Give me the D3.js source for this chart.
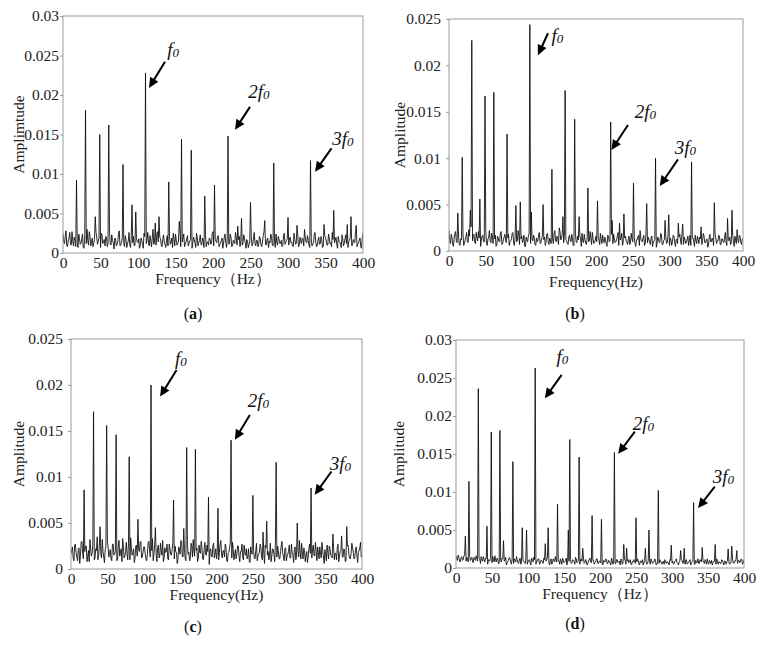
<!DOCTYPE html>
<html><head><meta charset="utf-8">
<script src="https://cdn.jsdelivr.net/npm/d3@7"></script>
<style>
html,body{margin:0;padding:0;background:#fff;}
svg{display:block;}
</style></head>
<body>
<svg id="chart" width="764" height="645" font-family="Liberation Serif, Times New Roman, serif"></svg>
<script>
// ---------- DATA ----------
const evenFreqs = d3.range(0, 401, 2); // Hz, noise grid (even)
const oddFreqs = d3.range(1, 400, 2);  // Hz, noise grid (odd)
const xTicks = [0, 50, 100, 150, 200, 250, 300, 350, 400];
const yTicks030 = [0, 0.005, 0.01, 0.015, 0.02, 0.025, 0.03];
const yTickLabels030 = ["0", "0.005", "0.01", "0.015", "0.02", "0.025", "0.03"];
const yTicks025 = [0, 0.005, 0.01, 0.015, 0.02, 0.025];
const yTickLabels025 = ["0", "0.005", "0.01", "0.015", "0.02", "0.025"];

// spectral peaks [frequency Hz, amplitude]
const peaksA = [[18,0.0092],[30,0.0181],[43,0.0046],[49,0.0150],[61,0.0162],[80,0.0112],[92,0.0061],[97,0.0052],[110,0.0228],[123,0.0038],[128,0.0046],[141,0.0090],[155,0.0040],[158,0.0144],[171,0.0130],[189,0.0072],[202,0.0086],[220,0.0148],[233,0.0034],[238,0.0044],[250,0.0064],[269,0.0041],[281,0.0114],[300,0.0045],[312,0.0035],[322,0.0030],[330,0.0117],[348,0.0036],[361,0.0054],[379,0.0036],[384,0.0046],[391,0.0035]];
const peaksB = [[12,0.0041],[18,0.0101],[29,0.0044],[31,0.0227],[42,0.0056],[49,0.0167],[61,0.0171],[79,0.0126],[91,0.0049],[97,0.0053],[110,0.0244],[112,0.0042],[128,0.0050],[140,0.0088],[155,0.0037],[158,0.0173],[171,0.0142],[177,0.0037],[189,0.0068],[202,0.0054],[220,0.0139],[222,0.0033],[232,0.0030],[238,0.0040],[251,0.0073],[260,0.0022],[269,0.0051],[281,0.0100],[294,0.0033],[299,0.0039],[312,0.0030],[318,0.0029],[330,0.0096],[343,0.0026],[361,0.0052],[379,0.0035],[385,0.0044],[392,0.0023]];
const peaksC = [[18,0.0086],[31,0.0171],[40,0.0046],[49,0.0156],[62,0.0146],[80,0.0122],[92,0.0054],[110,0.0200],[116,0.0045],[141,0.0075],[155,0.0044],[159,0.0132],[171,0.0130],[189,0.0078],[202,0.0066],[220,0.0140],[250,0.0080],[264,0.0040],[269,0.0052],[282,0.0116],[311,0.0050],[330,0.0088],[360,0.0038],[372,0.0036],[379,0.0046]];
const peaksD = [[13,0.0042],[18,0.0114],[31,0.0236],[43,0.0055],[49,0.0179],[61,0.0181],[66,0.0036],[79,0.0140],[92,0.0053],[98,0.0050],[110,0.0263],[124,0.0032],[128,0.0053],[141,0.0084],[156,0.0050],[158,0.0169],[171,0.0146],[176,0.0026],[189,0.0069],[202,0.0064],[220,0.0152],[233,0.0031],[237,0.0026],[250,0.0066],[263,0.0026],[268,0.0050],[281,0.0102],[299,0.0030],[312,0.0023],[317,0.0026],[330,0.0086],[342,0.0027],[360,0.0031],[378,0.0025],[383,0.0029],[390,0.0023]];

// noise floor amplitudes on evenFreqs (0..400 Hz)
const noiseA = [0.0025,0.0012,0.0028,0.0008,0.0019,0.0011,0.0027,0.0009,0.0016,0.0022,
0.0007,0.0018,0.0012,0.0024,0.0006,0.0015,0.0030,0.0010,0.0021,0.0013,
0.0008,0.0017,0.0026,0.0011,0.0019,0.0007,0.0023,0.0014,0.0009,0.0020,
0.0012,0.0028,0.0010,0.0016,0.0005,0.0018,0.0011,0.0024,0.0009,0.0014,
0.0020,0.0008,0.0017,0.0012,0.0026,0.0007,0.0015,0.0021,0.0010,0.0018,
0.0013,0.0006,0.0019,0.0011,0.0025,0.0009,0.0016,0.0012,0.0022,0.0008,
0.0030,0.0014,0.0010,0.0027,0.0012,0.0018,0.0008,0.0023,0.0011,0.0016,
0.0009,0.0021,0.0013,0.0007,0.0018,0.0024,0.0010,0.0015,0.0028,0.0011,
0.0019,0.0008,0.0014,0.0022,0.0012,0.0017,0.0006,0.0020,0.0013,0.0025,
0.0009,0.0016,0.0011,0.0019,0.0007,0.0023,0.0014,0.0010,0.0018,0.0012,
0.0027,0.0009,0.0015,0.0021,0.0008,0.0013,0.0019,0.0011,0.0024,0.0007,
0.0016,0.0012,0.0020,0.0009,0.0014,0.0026,0.0010,0.0017,0.0008,0.0022,
0.0013,0.0018,0.0006,0.0015,0.0011,0.0023,0.0009,0.0019,0.0012,0.0016,
0.0008,0.0021,0.0010,0.0014,0.0027,0.0011,0.0017,0.0007,0.0013,0.0020,
0.0009,0.0015,0.0024,0.0010,0.0018,0.0012,0.0008,0.0022,0.0011,0.0016,
0.0006,0.0019,0.0013,0.0009,0.0025,0.0011,0.0015,0.0008,0.0020,0.0012,
0.0017,0.0007,0.0014,0.0022,0.0010,0.0018,0.0009,0.0013,0.0026,0.0008,
0.0016,0.0011,0.0021,0.0007,0.0014,0.0019,0.0010,0.0024,0.0012,0.0008,
0.0017,0.0013,0.0020,0.0006,0.0015,0.0011,0.0023,0.0009,0.0018,0.0012,
0.0007,0.0016,0.0021,0.0010,0.0014,0.0027,0.0008,0.0013,0.0019,0.0006,
0.0025];
// noise floor amplitudes on oddFreqs (1..399 Hz)
const noiseA2 = [0.0014,0.0021,0.0009,0.0017,0.0026,0.0010,0.0015,0.0020,0.0008,0.0013,
0.0024,0.0011,0.0018,0.0007,0.0022,0.0012,0.0016,0.0027,0.0009,0.0019,
0.0013,0.0006,0.0020,0.0015,0.0010,0.0025,0.0012,0.0017,0.0021,0.0008,
0.0016,0.0011,0.0023,0.0013,0.0019,0.0009,0.0014,0.0028,0.0010,0.0018,
0.0012,0.0022,0.0007,0.0015,0.0011,0.0020,0.0013,0.0009,0.0024,0.0014,
0.0018,0.0010,0.0016,0.0006,0.0021,0.0012,0.0026,0.0009,0.0015,0.0019,
0.0011,0.0008,0.0023,0.0014,0.0020,0.0010,0.0017,0.0013,0.0007,0.0022,
0.0015,0.0011,0.0019,0.0025,0.0009,0.0016,0.0012,0.0021,0.0008,0.0014,
0.0024,0.0011,0.0018,0.0009,0.0015,0.0027,0.0012,0.0017,0.0007,0.0020,
0.0013,0.0023,0.0010,0.0016,0.0021,0.0008,0.0014,0.0019,0.0011,0.0025,
0.0009,0.0017,0.0013,0.0022,0.0010,0.0015,0.0006,0.0020,0.0014,0.0018,
0.0011,0.0024,0.0008,0.0016,0.0012,0.0019,0.0009,0.0021,0.0015,0.0010,
0.0023,0.0013,0.0017,0.0007,0.0014,0.0020,0.0011,0.0026,0.0009,0.0016,
0.0012,0.0018,0.0008,0.0022,0.0013,0.0010,0.0019,0.0015,0.0024,0.0011,
0.0017,0.0007,0.0014,0.0021,0.0012,0.0016,0.0009,0.0025,0.0013,0.0018,
0.0010,0.0020,0.0014,0.0008,0.0017,0.0012,0.0023,0.0010,0.0015,0.0019,
0.0009,0.0021,0.0013,0.0016,0.0007,0.0018,0.0011,0.0024,0.0014,0.0009,
0.0020,0.0012,0.0017,0.0008,0.0022,0.0015,0.0010,0.0019,0.0013,0.0026,
0.0009,0.0016,0.0011,0.0021,0.0014,0.0007,0.0018,0.0012,0.0023,0.0010,
0.0015,0.0020,0.0009,0.0017,0.0013,0.0024,0.0011,0.0016,0.0008,0.0019];
const noiseB = [0.0022,0.0008,0.0015,0.0005,0.0019,0.0010,0.0024,0.0007,0.0013,0.0017,
0.0006,0.0012,0.0020,0.0009,0.0016,0.0026,0.0011,0.0018,0.0008,0.0014,
0.0021,0.0007,0.0012,0.0017,0.0010,0.0023,0.0006,0.0015,0.0011,0.0019,
0.0008,0.0013,0.0005,0.0016,0.0010,0.0020,0.0007,0.0012,0.0018,0.0009,
0.0014,0.0006,0.0011,0.0019,0.0008,0.0015,0.0010,0.0022,0.0007,0.0013,
0.0009,0.0017,0.0005,0.0012,0.0016,0.0008,0.0020,0.0011,0.0014,0.0006,
0.0010,0.0018,0.0008,0.0013,0.0004,0.0015,0.0009,0.0019,0.0007,0.0012,
0.0016,0.0008,0.0022,0.0010,0.0014,0.0025,0.0012,0.0018,0.0009,0.0015,
0.0011,0.0007,0.0017,0.0010,0.0013,0.0006,0.0019,0.0009,0.0012,0.0016,
0.0005,0.0011,0.0018,0.0008,0.0014,0.0010,0.0021,0.0007,0.0013,0.0009,
0.0016,0.0006,0.0012,0.0019,0.0008,0.0011,0.0015,0.0007,0.0017,0.0010,
0.0013,0.0005,0.0018,0.0009,0.0012,0.0020,0.0008,0.0014,0.0006,0.0011,
0.0016,0.0009,0.0013,0.0007,0.0019,0.0010,0.0015,0.0005,0.0012,0.0017,
0.0008,0.0011,0.0014,0.0006,0.0018,0.0009,0.0013,0.0007,0.0016,0.0010,
0.0012,0.0004,0.0015,0.0009,0.0019,0.0007,0.0011,0.0014,0.0008,0.0017,
0.0006,0.0012,0.0010,0.0016,0.0005,0.0013,0.0009,0.0018,0.0007,0.0011,
0.0015,0.0008,0.0012,0.0006,0.0017,0.0010,0.0014,0.0005,0.0011,0.0016,
0.0008,0.0013,0.0007,0.0019,0.0009,0.0012,0.0004,0.0015,0.0010,0.0014,
0.0006,0.0018,0.0008,0.0011,0.0016,0.0007,0.0013,0.0009,0.0020,0.0006,
0.0012,0.0015,0.0008,0.0017,0.0005,0.0011,0.0014,0.0009,0.0016,0.0007,
0.0013];
const noiseB2 = [0.0011,0.0018,0.0007,0.0014,0.0021,0.0009,0.0016,0.0006,0.0012,0.0019,
0.0008,0.0015,0.0010,0.0023,0.0007,0.0013,0.0017,0.0009,0.0020,0.0011,
0.0014,0.0005,0.0016,0.0010,0.0019,0.0008,0.0013,0.0022,0.0009,0.0015,
0.0011,0.0017,0.0006,0.0014,0.0010,0.0021,0.0008,0.0015,0.0012,0.0007,
0.0018,0.0010,0.0013,0.0020,0.0006,0.0014,0.0011,0.0017,0.0009,0.0016,
0.0012,0.0005,0.0015,0.0010,0.0019,0.0008,0.0013,0.0017,0.0007,0.0014,
0.0011,0.0020,0.0009,0.0016,0.0012,0.0006,0.0018,0.0010,0.0014,0.0008,
0.0013,0.0019,0.0011,0.0016,0.0007,0.0021,0.0014,0.0009,0.0017,0.0012,
0.0008,0.0015,0.0011,0.0018,0.0006,0.0013,0.0010,0.0016,0.0008,0.0014,
0.0019,0.0009,0.0012,0.0007,0.0016,0.0011,0.0014,0.0020,0.0008,0.0012,
0.0010,0.0015,0.0007,0.0013,0.0017,0.0009,0.0012,0.0005,0.0015,0.0011,
0.0018,0.0008,0.0013,0.0010,0.0016,0.0006,0.0012,0.0019,0.0009,0.0014,
0.0011,0.0007,0.0016,0.0010,0.0013,0.0018,0.0008,0.0012,0.0015,0.0006,
0.0013,0.0010,0.0017,0.0008,0.0012,0.0015,0.0009,0.0014,0.0005,0.0011,
0.0016,0.0008,0.0013,0.0010,0.0018,0.0007,0.0012,0.0015,0.0009,0.0011,
0.0014,0.0006,0.0017,0.0010,0.0012,0.0008,0.0015,0.0011,0.0019,0.0007,
0.0013,0.0009,0.0016,0.0011,0.0006,0.0014,0.0010,0.0017,0.0008,0.0012,
0.0015,0.0007,0.0011,0.0016,0.0009,0.0013,0.0006,0.0018,0.0010,0.0012,
0.0008,0.0014,0.0011,0.0017,0.0007,0.0013,0.0010,0.0015,0.0009,0.0018,
0.0011,0.0007,0.0014,0.0010,0.0016,0.0008,0.0012,0.0017,0.0009,0.0013];
const noiseC = [0.0016,0.0024,0.0009,0.0027,0.0013,0.0021,0.0006,0.0029,0.0017,0.0011,
0.0025,0.0008,0.0020,0.0032,0.0014,0.0026,0.0010,0.0022,0.0035,0.0015,
0.0028,0.0012,0.0019,0.0007,0.0024,0.0030,0.0013,0.0021,0.0009,0.0027,
0.0016,0.0023,0.0011,0.0031,0.0018,0.0008,0.0025,0.0014,0.0029,0.0010,
0.0020,0.0034,0.0015,0.0022,0.0012,0.0026,0.0007,0.0019,0.0030,0.0013,
0.0024,0.0017,0.0009,0.0028,0.0021,0.0011,0.0033,0.0016,0.0023,0.0008,
0.0026,0.0014,0.0020,0.0031,0.0012,0.0018,0.0027,0.0010,0.0022,0.0015,
0.0029,0.0011,0.0019,0.0006,0.0024,0.0016,0.0030,0.0013,0.0021,0.0009,
0.0027,0.0018,0.0012,0.0025,0.0032,0.0014,0.0020,0.0008,0.0026,0.0017,
0.0023,0.0010,0.0029,0.0015,0.0019,0.0005,0.0022,0.0013,0.0028,0.0016,
0.0011,0.0024,0.0018,0.0031,0.0012,0.0020,0.0027,0.0009,0.0017,0.0023,
0.0014,0.0029,0.0010,0.0021,0.0016,0.0025,0.0008,0.0019,0.0013,0.0026,
0.0015,0.0011,0.0022,0.0007,0.0018,0.0024,0.0012,0.0020,0.0009,0.0016,
0.0027,0.0013,0.0019,0.0006,0.0023,0.0015,0.0010,0.0028,0.0014,0.0021,
0.0008,0.0017,0.0025,0.0011,0.0019,0.0030,0.0013,0.0022,0.0009,0.0016,
0.0026,0.0012,0.0018,0.0007,0.0024,0.0014,0.0020,0.0031,0.0011,0.0017,
0.0023,0.0008,0.0019,0.0013,0.0027,0.0010,0.0021,0.0015,0.0029,0.0009,
0.0018,0.0024,0.0012,0.0020,0.0006,0.0016,0.0026,0.0011,0.0022,0.0014,
0.0030,0.0010,0.0017,0.0023,0.0008,0.0019,0.0027,0.0013,0.0021,0.0009,
0.0025,0.0015,0.0011,0.0028,0.0018,0.0012,0.0024,0.0007,0.0020,0.0029,
0.0016];
const noiseC2 = [0.0021,0.0012,0.0026,0.0018,0.0009,0.0023,0.0015,0.0030,0.0011,0.0019,
0.0025,0.0014,0.0008,0.0022,0.0017,0.0028,0.0012,0.0020,0.0010,0.0026,
0.0016,0.0032,0.0013,0.0021,0.0008,0.0024,0.0018,0.0011,0.0027,0.0015,
0.0020,0.0009,0.0025,0.0014,0.0022,0.0033,0.0012,0.0019,0.0016,0.0028,
0.0010,0.0023,0.0017,0.0007,0.0025,0.0014,0.0021,0.0029,0.0012,0.0018,
0.0024,0.0011,0.0016,0.0030,0.0013,0.0020,0.0009,0.0026,0.0017,0.0022,
0.0012,0.0028,0.0015,0.0008,0.0023,0.0019,0.0011,0.0027,0.0016,0.0021,
0.0013,0.0025,0.0018,0.0010,0.0022,0.0031,0.0014,0.0019,0.0011,0.0024,
0.0016,0.0009,0.0028,0.0013,0.0020,0.0015,0.0023,0.0012,0.0018,0.0030,
0.0011,0.0021,0.0016,0.0026,0.0008,0.0019,0.0014,0.0025,0.0012,0.0022,
0.0017,0.0010,0.0027,0.0015,0.0020,0.0013,0.0024,0.0008,0.0018,0.0029,
0.0012,0.0021,0.0016,0.0011,0.0025,0.0014,0.0019,0.0027,0.0010,0.0017,
0.0022,0.0013,0.0009,0.0024,0.0016,0.0020,0.0011,0.0028,0.0014,0.0018,
0.0023,0.0010,0.0017,0.0026,0.0012,0.0019,0.0015,0.0008,0.0022,0.0016,
0.0029,0.0013,0.0020,0.0011,0.0025,0.0017,0.0009,0.0023,0.0014,0.0019,
0.0012,0.0027,0.0016,0.0021,0.0010,0.0024,0.0013,0.0018,0.0028,0.0011,
0.0020,0.0015,0.0007,0.0022,0.0017,0.0012,0.0026,0.0014,0.0019,0.0024,
0.0011,0.0016,0.0029,0.0013,0.0021,0.0009,0.0018,0.0025,0.0015,0.0012,
0.0023,0.0017,0.0010,0.0027,0.0014,0.0020,0.0013,0.0022,0.0008,0.0019,
0.0026,0.0012,0.0017,0.0024,0.0011,0.0021,0.0015,0.0018,0.0023,0.0013];
const noiseD = [0.0016,0.0010,0.0014,0.0008,0.0015,0.0011,0.0017,0.0009,0.0013,0.0018,
0.0010,0.0014,0.0007,0.0012,0.0016,0.0009,0.0013,0.0006,0.0011,0.0015,
0.0008,0.0012,0.0005,0.0010,0.0014,0.0007,0.0011,0.0016,0.0008,0.0012,
0.0006,0.0010,0.0013,0.0007,0.0011,0.0004,0.0009,0.0014,0.0008,0.0012,
0.0006,0.0010,0.0015,0.0007,0.0011,0.0005,0.0013,0.0009,0.0006,0.0012,
0.0008,0.0011,0.0004,0.0010,0.0014,0.0007,0.0009,0.0012,0.0005,0.0010,
0.0008,0.0013,0.0006,0.0011,0.0009,0.0004,0.0012,0.0007,0.0010,0.0015,
0.0008,0.0011,0.0005,0.0009,0.0013,0.0007,0.0010,0.0004,0.0012,0.0008,
0.0006,0.0011,0.0009,0.0014,0.0007,0.0010,0.0005,0.0012,0.0008,0.0006,
0.0011,0.0004,0.0009,0.0013,0.0007,0.0010,0.0005,0.0008,0.0012,0.0006,
0.0009,0.0011,0.0004,0.0008,0.0012,0.0006,0.0010,0.0007,0.0013,0.0005,
0.0009,0.0006,0.0011,0.0008,0.0004,0.0010,0.0007,0.0012,0.0005,0.0009,
0.0007,0.0011,0.0004,0.0008,0.0010,0.0006,0.0012,0.0005,0.0009,0.0007,
0.0004,0.0010,0.0008,0.0006,0.0011,0.0005,0.0009,0.0007,0.0012,0.0004,
0.0008,0.0006,0.0010,0.0005,0.0009,0.0011,0.0006,0.0008,0.0004,0.0010,
0.0007,0.0005,0.0009,0.0012,0.0006,0.0008,0.0004,0.0010,0.0007,0.0005,
0.0011,0.0006,0.0009,0.0004,0.0008,0.0010,0.0005,0.0007,0.0012,0.0006,
0.0009,0.0004,0.0008,0.0011,0.0005,0.0007,0.0010,0.0006,0.0004,0.0009,
0.0007,0.0012,0.0005,0.0008,0.0006,0.0010,0.0004,0.0009,0.0007,0.0011,
0.0005,0.0008,0.0013,0.0006,0.0009,0.0004,0.0010,0.0007,0.0012,0.0005,
0.0011];
const noiseD2 = [0.0012,0.0017,0.0009,0.0013,0.0010,0.0016,0.0011,0.0014,0.0008,0.0015,
0.0012,0.0009,0.0014,0.0010,0.0013,0.0007,0.0012,0.0015,0.0009,0.0011,
0.0013,0.0007,0.0011,0.0009,0.0012,0.0015,0.0008,0.0010,0.0013,0.0006,
0.0011,0.0008,0.0012,0.0009,0.0014,0.0007,0.0010,0.0012,0.0005,0.0009,
0.0012,0.0008,0.0011,0.0006,0.0013,0.0009,0.0010,0.0007,0.0012,0.0005,
0.0010,0.0007,0.0013,0.0008,0.0011,0.0005,0.0009,0.0012,0.0007,0.0010,
0.0006,0.0011,0.0009,0.0014,0.0007,0.0010,0.0005,0.0012,0.0008,0.0011,
0.0006,0.0009,0.0012,0.0005,0.0010,0.0008,0.0013,0.0006,0.0009,0.0011,
0.0007,0.0010,0.0005,0.0012,0.0008,0.0006,0.0011,0.0009,0.0013,0.0007,
0.0009,0.0006,0.0011,0.0008,0.0005,0.0010,0.0007,0.0012,0.0006,0.0009,
0.0007,0.0005,0.0010,0.0008,0.0011,0.0006,0.0009,0.0004,0.0010,0.0008,
0.0006,0.0011,0.0007,0.0009,0.0012,0.0005,0.0008,0.0010,0.0006,0.0011,
0.0008,0.0005,0.0009,0.0011,0.0006,0.0008,0.0010,0.0004,0.0009,0.0011,
0.0007,0.0009,0.0005,0.0010,0.0007,0.0012,0.0006,0.0008,0.0010,0.0005,
0.0009,0.0011,0.0007,0.0008,0.0005,0.0010,0.0008,0.0006,0.0011,0.0007,
0.0009,0.0006,0.0010,0.0007,0.0004,0.0009,0.0011,0.0006,0.0008,0.0010,
0.0005,0.0008,0.0011,0.0007,0.0009,0.0005,0.0010,0.0007,0.0006,0.0011,
0.0008,0.0010,0.0006,0.0009,0.0012,0.0005,0.0008,0.0010,0.0007,0.0009,
0.0005,0.0010,0.0008,0.0006,0.0011,0.0007,0.0009,0.0005,0.0010,0.0008,
0.0006,0.0011,0.0007,0.0009,0.0012,0.0006,0.0010,0.0008,0.0011,0.0007];

// annotations: tip [Hz, amp], tail [Hz, amp], text anchor [Hz, amp]
const harmonicLabels = [["", "f"], ["2", "f"], ["3", "f"]];
const annotA = [[[114.7,0.0209],[136,0.0242],[139,0.0249]],[[229.3,0.0156],[249.3,0.0185],[247,0.0196]],[[336,0.0103],[358,0.01325],[359,0.0137]]];
const annotB = [[[121,0.0211],[134.7,0.02346],[139.3,0.0225]],[[221,0.01088],[243.5,0.01358],[252.7,0.0143]],[[286.7,0.0070],[311.6,0.00988],[307,0.01045]]];
const annotC = [[[122.5,0.01874],[145.1,0.02163],[142.8,0.0222]],[[225.2,0.01405],[245.8,0.01675],[243,0.0176]],[[335,0.00807],[358,0.0106],[355.6,0.0108]]];
const annotD = [[[123.4,0.02234],[146.7,0.0254],[139.7,0.0270]],[[225.2,0.01502],[248.4,0.01795],[245.6,0.0182]],[[336.2,0.00788],[359.4,0.01072],[356.6,0.0112]]];

// ---------- LAYOUT ----------
const FONT = "Liberation Serif, Times New Roman, serif";
const panels = [
  {cap:"a", noise:[noiseA, noiseA2], peaks:peaksA, yMax:0.03, yT:yTicks030, yL:yTickLabels030, yTitle:"Amplimtude", xTitle:"Frequency（Hz）", annot:annotA,
   box:[63,16,363,253], tickPad:2, xTitleDy:31, yTitleX:18, capPos:[193,319]},
  {cap:"b", noise:[noiseB, noiseB2], peaks:peaksB, yMax:0.025, yT:yTicks025, yL:yTickLabels025, yTitle:"Amplitude", xTitle:"Frequency(Hz)", annot:annotB,
   box:[449,19,743,251], tickPad:6, xTitleDy:36, yTitleX:399, capPos:[575,319]},
  {cap:"c", noise:[noiseC, noiseC2], peaks:peaksC, yMax:0.025, yT:yTicks025, yL:yTickLabels025, yTitle:"Amplitude", xTitle:"Frequency(Hz)", annot:annotC,
   box:[71,339,362,569], tickPad:6, xTitleDy:31, yTitleX:18, capPos:[193,632]},
  {cap:"d", noise:[noiseD, noiseD2], peaks:peaksD, yMax:0.03, yT:yTicks030, yL:yTickLabels030, yTitle:"Amplitude", xTitle:"Frequency（Hz）", annot:annotD,
   box:[456,340,744,568], tickPad:2, xTitleDy:31, yTitleX:398, capPos:[575,629]}
];

const svg = d3.select("#chart");
const defs = svg.append("defs");

function buildSeries([even, odd], peaks){
  const m = new Map();
  even.forEach((v,i)=>m.set(evenFreqs[i], v));
  odd.forEach((v,i)=>m.set(oddFreqs[i], v));
  peaks.forEach(([f,a])=>m.set(f, Math.max(a, m.get(f)||0)));
  return Array.from(m, ([f,a])=>({f,a})).sort((p,q)=>p.f-q.f);
}

panels.forEach((p, idx)=>{
  const [x0,y0,x1,y1] = p.box;
  const x = d3.scaleLinear().domain([0,400]).range([x0,x1]);
  const y = d3.scaleLinear().domain([0,p.yMax]).range([y1,y0]);
  const g = svg.append("g");

  defs.append("clipPath").attr("id","clip"+idx).append("rect")
    .attr("x",x0).attr("y",y0).attr("width",x1-x0).attr("height",y1-y0);

  // axes
  const yAxis = d3.axisLeft(y).tickValues(p.yT).tickFormat((d,i)=>p.yL[i]).tickSize(3).tickPadding(p.tickPad - 1);
  const ga = g.append("g").attr("transform",`translate(${x0},0)`).call(yAxis)
    .attr("font-family",FONT).attr("font-size",15.5);
  ga.select(".domain").remove();
  ga.selectAll("line").attr("stroke","#999");
  ga.selectAll("text").attr("fill","#222");

  const xAxis = d3.axisBottom(x).tickValues(xTicks).tickFormat(d=>String(d)).tickSize(0).tickPadding(4);
  const gx = g.append("g").attr("transform",`translate(0,${y1})`).call(xAxis)
    .attr("font-family",FONT).attr("font-size",15.5);
  gx.select(".domain").remove();
  gx.selectAll("text").attr("fill","#222");

  // data line
  const series = buildSeries(p.noise, p.peaks);
  g.append("path").datum(series)
    .attr("clip-path",`url(#clip${idx})`)
    .attr("fill","none").attr("stroke","#111").attr("stroke-width",0.9)
    .attr("d", d3.line().x(d=>x(d.f)).y(d=>y(d.a)));

  // frame
  g.append("rect").attr("x",x0).attr("y",y0).attr("width",x1-x0).attr("height",y1-y0)
    .attr("fill","none").attr("stroke","#9a9a9a").attr("stroke-width",1);

  // titles
  g.append("text").attr("x",(x0+x1)/2).attr("y",y1+p.xTitleDy).attr("text-anchor","middle")
    .attr("font-family",FONT).attr("font-size",15.5).attr("fill","#222").text(p.xTitle);
  g.append("text").attr("transform",`translate(${p.yTitleX},${(y0+y1)/2}) rotate(-90)`)
    .attr("text-anchor","middle").attr("dominant-baseline","central")
    .attr("font-family",FONT).attr("font-size",15.5).attr("fill","#222").text(p.yTitle);

  // caption
  const cap = g.append("text").attr("x",p.capPos[0]).attr("y",p.capPos[1]).attr("text-anchor","middle")
    .attr("font-family",FONT).attr("font-size",16).attr("fill","#111");
  cap.append("tspan").text("(");
  cap.append("tspan").attr("font-weight","bold").text(p.cap);
  cap.append("tspan").text(")");

  // annotations
  p.annot.forEach(([tip, tail, lab], k)=>{
    const tx = x(tip[0]), ty = y(tip[1]), sx = x(tail[0]), sy = y(tail[1]);
    const ang = Math.atan2(ty-sy, tx-sx);
    const L = 10, W = 4.8;
    const bx = tx - L*Math.cos(ang), by = ty - L*Math.sin(ang);
    g.append("line").attr("x1",sx).attr("y1",sy).attr("x2",bx+1.5*Math.cos(ang)).attr("y2",by+1.5*Math.sin(ang))
      .attr("stroke","#000").attr("stroke-width",2);
    const px = -Math.sin(ang), py = Math.cos(ang);
    g.append("path").attr("d",`M${tx},${ty}L${bx+W*px},${by+W*py}L${bx-W*px},${by-W*py}Z`).attr("fill","#000");
    const t = g.append("text").attr("x",x(lab[0])).attr("y",y(lab[1]))
      .attr("font-family",FONT).attr("font-style","italic").attr("font-size",19).attr("fill","#111");
    if (harmonicLabels[k][0]) t.append("tspan").text(harmonicLabels[k][0]);
    t.append("tspan").text(harmonicLabels[k][1]);
    t.append("tspan").attr("font-size",13).attr("dy",1).text("0");
  });
});
</script>
</body></html>
